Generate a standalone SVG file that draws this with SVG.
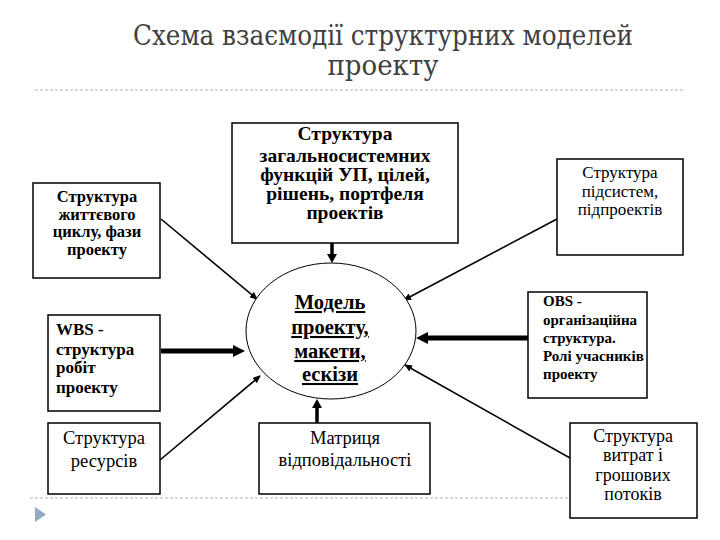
<svg xmlns="http://www.w3.org/2000/svg" width="720" height="540" viewBox="0 0 720 540">
<style>
.box{fill:#fff;stroke:#000;stroke-width:1.5}
.t{font-family:'Liberation Serif','Times New Roman',serif;fill:#000}
.b{font-weight:bold}
.c{text-anchor:middle}
.thin{stroke:#000;stroke-width:1.6;fill:none}
.thick{stroke:#000;stroke-width:5;fill:none}
.mid{stroke:#000;stroke-width:3.5;fill:none}
.dash{stroke:#b0b0b0;stroke-width:1;stroke-dasharray:3,2}
.ttl{font-family:'DejaVu Serif Condensed','DejaVu Serif',serif;font-size:27px;fill:#404040;text-anchor:middle}
</style>
<defs>
<marker id="ah" markerUnits="userSpaceOnUse" markerWidth="8" markerHeight="7" refX="7" refY="3.5" orient="auto"><path d="M0,0 L8,3.5 L0,7 z" fill="#000"/></marker>
<marker id="ahb" markerUnits="userSpaceOnUse" markerWidth="13" markerHeight="12" refX="1" refY="6" orient="auto"><path d="M0,0 L12,6 L0,12 z" fill="#000"/></marker>
<marker id="ahm" markerUnits="userSpaceOnUse" markerWidth="10" markerHeight="10" refX="1" refY="5" orient="auto"><path d="M0,0 L9,5 L0,10 z" fill="#000"/></marker>
</defs>
<rect width="720" height="540" fill="#fff"/>
<g id="title">
<text class="ttl" x="383" y="45" textLength="500" lengthAdjust="spacingAndGlyphs">Схема взаємодії структурних моделей</text>
<text class="ttl" x="383" y="75" textLength="111" lengthAdjust="spacingAndGlyphs">проекту</text>
</g>
<line class="dash" x1="35" y1="90" x2="685" y2="90"/>
<line class="dash" x1="30" y1="498" x2="685" y2="498"/>
<polygon points="35,507 46,514.5 35,522" fill="#93aac6"/>
<g id="connectors">
<line class="thin" x1="161" y1="219" x2="257" y2="299" marker-end="url(#ah)"/>
<line class="thick" x1="161" y1="351" x2="234" y2="351" marker-end="url(#ahb)"/>
<line class="thin" x1="160" y1="460" x2="260" y2="376" marker-end="url(#ah)"/>
<line class="mid" x1="332" y1="243" x2="332" y2="255" marker-end="url(#ahm)"/>
<line class="mid" x1="317" y1="423" x2="317" y2="407" marker-end="url(#ahm)"/>
<line class="thin" x1="557" y1="219" x2="404" y2="300" marker-end="url(#ah)"/>
<line class="thick" x1="528" y1="338" x2="427" y2="338" marker-end="url(#ahb)"/>
<line class="thin" x1="570" y1="458" x2="405" y2="365" marker-end="url(#ah)"/>
</g>
<g id="n-lifecycle">
<rect class="box" x="33" y="183" width="127" height="95"/>
<text class="t b c" font-size="16.5" x="97"><tspan x="97" y="202">Структура</tspan><tspan x="97" y="219.5">життєвого</tspan><tspan x="97" y="237">циклу, фази</tspan><tspan x="97" y="254.5">проекту</tspan></text>
</g>
<g id="n-functions">
<rect class="box" x="232" y="123" width="226" height="120"/>
<text class="t b c" font-size="19.5" x="345"><tspan x="345" y="140">Структура</tspan><tspan x="345" y="162">загальносистемних</tspan><tspan x="345" y="181">функцій УП, цілей,</tspan><tspan x="345" y="200">рішень, портфеля</tspan><tspan x="345" y="219">проектів</tspan></text>
</g>
<g id="n-subsystems">
<rect class="box" x="557" y="159" width="126" height="96"/>
<text class="t c" font-size="17" x="620"><tspan x="620" y="178">Структура</tspan><tspan x="620" y="197">підсистем,</tspan><tspan x="620" y="215">підпроектів</tspan></text>
</g>
<g id="n-wbs">
<rect class="box" x="48" y="315" width="112" height="96"/>
<text class="t b" font-size="17"><tspan x="56" y="335">WBS -</tspan><tspan x="56" y="355">структура</tspan><tspan x="56" y="373">робіт</tspan><tspan x="56" y="393">проекту</tspan></text>
</g>
<g id="n-resources">
<rect class="box" x="48" y="423" width="112" height="71"/>
<text class="t c" font-size="18.5" x="104"><tspan x="104" y="444">Структура</tspan><tspan x="104" y="467">ресурсів</tspan></text>
</g>
<g id="n-model">
<ellipse cx="331" cy="331" rx="85" ry="68" fill="#fff" stroke="#000" stroke-width="1"/>
<text class="t b c" font-size="20.5" text-decoration="underline" x="330"><tspan x="330" y="309">Модель</tspan><tspan x="330" y="334">проекту,</tspan><tspan x="330" y="358">макети,</tspan><tspan x="330" y="381">ескізи</tspan></text>
</g>
<g id="n-matrix">
<rect class="box" x="259" y="423" width="171" height="71"/>
<text class="t c" font-size="18.5" x="345"><tspan x="345" y="444">Матриця</tspan><tspan x="345" y="466">відповідальності</tspan></text>
</g>
<g id="n-obs">
<rect class="box" x="528" y="292" width="119" height="106"/>
<text class="t b" font-size="15"><tspan x="543" y="306">OBS -</tspan><tspan x="543" y="325">організаційна</tspan><tspan x="543" y="343">структура.</tspan><tspan x="543" y="361">Ролі учасників</tspan><tspan x="543" y="379">проекту</tspan></text>
</g>
<g id="n-costs">
<rect class="box" x="570" y="423" width="127" height="95"/>
<text class="t c" font-size="18" x="633"><tspan x="633" y="442">Структура</tspan><tspan x="633" y="461">витрат і</tspan><tspan x="633" y="481">грошових</tspan><tspan x="633" y="500">потоків</tspan></text>
</g>
</svg>
